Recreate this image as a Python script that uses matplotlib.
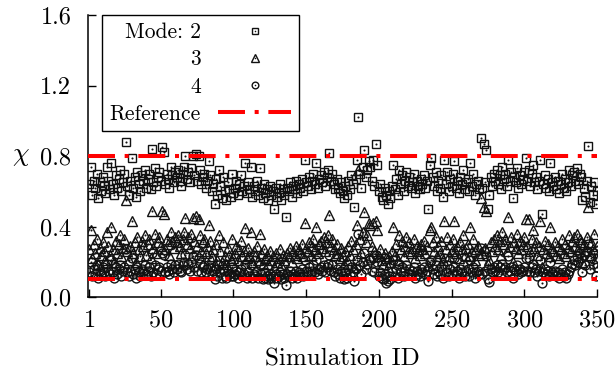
import numpy as np
import matplotlib
matplotlib.use("Agg")
import matplotlib.pyplot as plt
from matplotlib.legend_handler import HandlerTuple

plt.rcParams['font.family'] = 'serif'
plt.rcParams['font.serif'] = ['cmr10', 'DejaVu Serif']
plt.rcParams['mathtext.fontset'] = 'cm'
plt.rcParams['axes.unicode_minus'] = False
plt.rcParams['axes.formatter.use_mathtext'] = True

# ---------------- data ----------------
sim_ids = list(range(1, 351))

mode2 = [
    0.64, 0.74, 0.58, 0.66, 0.62, 0.70, 0.56, 0.65, 0.60, 0.68,
    0.63, 0.59, 0.74, 0.66, 0.61, 0.76, 0.64, 0.58, 0.69, 0.62,
    0.67, 0.72, 0.60, 0.65, 0.70, 0.88, 0.63, 0.58, 0.66, 0.79,
    0.62, 0.68, 0.57, 0.71, 0.64, 0.60, 0.69, 0.66, 0.72, 0.62,
    0.67, 0.70, 0.61, 0.84, 0.65, 0.73, 0.63, 0.68, 0.71, 0.66,
    0.85, 0.82, 0.64, 0.70, 0.67, 0.62, 0.74, 0.69, 0.65, 0.71,
    0.68, 0.72, 0.66, 0.63, 0.70, 0.74, 0.80, 0.67, 0.71, 0.65,
    0.73, 0.80, 0.69, 0.81, 0.66, 0.80, 0.72, 0.64, 0.68, 0.70,
    0.62, 0.66, 0.77, 0.69, 0.60, 0.64, 0.53, 0.67, 0.58, 0.72,
    0.63, 0.56, 0.68, 0.60, 0.55, 0.65, 0.61, 0.57, 0.70, 0.59,
    0.62, 0.66, 0.58, 0.64, 0.69, 0.60, 0.63, 0.76, 0.59, 0.65,
    0.61, 0.74, 0.57, 0.63, 0.60, 0.66, 0.58, 0.73, 0.62, 0.56,
    0.64, 0.59, 0.61, 0.55, 0.63, 0.58, 0.60, 0.50, 0.62, 0.57,
    0.59, 0.64, 0.55, 0.61, 0.58, 0.455, 0.62, 0.60, 0.65, 0.57,
    0.63, 0.61, 0.66, 0.59, 0.64, 0.62, 0.67, 0.60, 0.78, 0.65,
    0.63, 0.68, 0.61, 0.66, 0.70, 0.64, 0.76, 0.62, 0.67, 0.69,
    0.65, 0.71, 0.63, 0.68, 0.72, 0.815, 0.66, 0.70, 0.64, 0.61,
    0.67, 0.62, 0.59, 0.65, 0.60, 0.56, 0.63, 0.58, 0.66, 0.61,
    0.69, 0.64, 0.51, 0.67, 0.78, 1.02, 0.70, 0.62, 0.74, 0.835,
    0.68, 0.72, 0.77, 0.74, 0.66, 0.78, 0.63, 0.87, 0.75, 0.60,
    0.64, 0.57, 0.55, 0.62, 0.58, 0.53, 0.60, 0.56, 0.63, 0.75,
    0.61, 0.67, 0.58, 0.72, 0.64, 0.69, 0.60, 0.66, 0.71, 0.63,
    0.68, 0.62, 0.65, 0.70, 0.59, 0.66, 0.63, 0.61, 0.67, 0.64,
    0.69, 0.62, 0.66, 0.50, 0.75, 0.79, 0.68, 0.63, 0.71, 0.60,
    0.66, 0.62, 0.69, 0.57, 0.78, 0.64, 0.71, 0.60, 0.67, 0.63,
    0.70, 0.77, 0.62, 0.66, 0.59, 0.68, 0.64, 0.72, 0.61, 0.65,
    0.67, 0.60, 0.76, 0.63, 0.70, 0.58, 0.64, 0.66, 0.61, 0.90,
    0.62, 0.87, 0.65, 0.835, 0.50, 0.58, 0.68, 0.63, 0.70, 0.66,
    0.72, 0.64, 0.69, 0.61, 0.74, 0.67, 0.70, 0.63, 0.78, 0.66,
    0.71, 0.56, 0.68, 0.65, 0.73, 0.62, 0.69, 0.64, 0.67, 0.71,
    0.79, 0.66, 0.72, 0.63, 0.70, 0.75, 0.65, 0.68, 0.61, 0.66,
    0.78, 0.47, 0.64, 0.69, 0.62, 0.67, 0.60, 0.76, 0.65, 0.63,
    0.68, 0.61, 0.66, 0.59, 0.64, 0.70, 0.62, 0.67, 0.60, 0.65,
    0.72, 0.63, 0.69, 0.71, 0.66, 0.73, 0.64, 0.70, 0.68, 0.55,
    0.62, 0.57, 0.66, 0.855, 0.54, 0.63, 0.58, 0.65, 0.53, 0.60,
]

mode3 = [
    0.27, 0.38, 0.22, 0.30, 0.25, 0.33, 0.19, 0.28, 0.24, 0.31,
    0.26, 0.21, 0.37, 0.29, 0.24, 0.40, 0.27, 0.20, 0.32, 0.25,
    0.30, 0.35, 0.23, 0.28, 0.33, 0.55, 0.26, 0.21, 0.29, 0.43,
    0.25, 0.31, 0.20, 0.34, 0.27, 0.23, 0.32, 0.29, 0.35, 0.24,
    0.30, 0.33, 0.22, 0.49, 0.28, 0.36, 0.25, 0.31, 0.34, 0.29,
    0.49, 0.47, 0.27, 0.33, 0.30, 0.24, 0.37, 0.32, 0.28, 0.34,
    0.31, 0.35, 0.29, 0.25, 0.33, 0.37, 0.45, 0.30, 0.34, 0.28,
    0.36, 0.45, 0.32, 0.46, 0.29, 0.44, 0.35, 0.26, 0.31, 0.33,
    0.25, 0.29, 0.41, 0.32, 0.23, 0.27, 0.18, 0.30, 0.21, 0.35,
    0.26, 0.20, 0.31, 0.23, 0.19, 0.28, 0.24, 0.21, 0.33, 0.22,
    0.25, 0.29, 0.21, 0.27, 0.32, 0.23, 0.26, 0.39, 0.22, 0.28,
    0.24, 0.37, 0.20, 0.26, 0.23, 0.29, 0.21, 0.36, 0.25, 0.19,
    0.27, 0.22, 0.24, 0.19, 0.26, 0.21, 0.23, 0.17, 0.25, 0.20,
    0.22, 0.27, 0.18, 0.24, 0.21, 0.15, 0.25, 0.23, 0.28, 0.20,
    0.26, 0.24, 0.29, 0.22, 0.27, 0.25, 0.30, 0.23, 0.42, 0.28,
    0.26, 0.31, 0.24, 0.29, 0.33, 0.27, 0.40, 0.25, 0.30, 0.32,
    0.28, 0.34, 0.26, 0.31, 0.35, 0.465, 0.29, 0.33, 0.27, 0.24,
    0.30, 0.25, 0.22, 0.28, 0.23, 0.19, 0.26, 0.21, 0.29, 0.24,
    0.32, 0.27, 0.17, 0.30, 0.41, 0.72, 0.33, 0.25, 0.37, 0.48,
    0.31, 0.35, 0.42, 0.41, 0.29, 0.42, 0.26, 0.43, 0.38, 0.23,
    0.27, 0.21, 0.19, 0.25, 0.22, 0.17, 0.23, 0.20, 0.26, 0.40,
    0.24, 0.30, 0.21, 0.35, 0.27, 0.32, 0.23, 0.29, 0.34, 0.26,
    0.31, 0.25, 0.28, 0.33, 0.22, 0.29, 0.26, 0.24, 0.30, 0.27,
    0.32, 0.25, 0.29, 0.18, 0.38, 0.40, 0.31, 0.26, 0.34, 0.23,
    0.29, 0.25, 0.32, 0.21, 0.43, 0.27, 0.34, 0.23, 0.30, 0.26,
    0.33, 0.43, 0.25, 0.29, 0.22, 0.31, 0.27, 0.35, 0.24, 0.28,
    0.30, 0.23, 0.40, 0.26, 0.33, 0.21, 0.27, 0.29, 0.24, 0.56,
    0.25, 0.51, 0.28, 0.49, 0.19, 0.21, 0.31, 0.26, 0.33, 0.29,
    0.35, 0.27, 0.32, 0.24, 0.37, 0.30, 0.33, 0.26, 0.455, 0.29,
    0.34, 0.20, 0.31, 0.28, 0.36, 0.25, 0.32, 0.27, 0.30, 0.34,
    0.44, 0.29, 0.44, 0.26, 0.33, 0.38, 0.28, 0.31, 0.24, 0.29,
    0.43, 0.17, 0.27, 0.32, 0.25, 0.30, 0.23, 0.40, 0.28, 0.26,
    0.31, 0.24, 0.29, 0.22, 0.27, 0.33, 0.25, 0.30, 0.23, 0.28,
    0.35, 0.26, 0.32, 0.34, 0.29, 0.36, 0.27, 0.33, 0.31, 0.20,
    0.30, 0.26, 0.34, 0.51, 0.24, 0.31, 0.27, 0.36, 0.22, 0.29,
]

mode4 = [
    0.14, 0.20, 0.12, 0.16, 0.13, 0.18, 0.11, 0.15, 0.13, 0.17,
    0.14, 0.12, 0.19, 0.15, 0.13, 0.21, 0.14, 0.11, 0.17, 0.13,
    0.16, 0.18, 0.12, 0.15, 0.17, 0.27, 0.14, 0.12, 0.15, 0.22,
    0.13, 0.16, 0.11, 0.17, 0.14, 0.12, 0.16, 0.15, 0.18, 0.13,
    0.15, 0.17, 0.12, 0.25, 0.14, 0.18, 0.13, 0.16, 0.17, 0.15,
    0.25, 0.24, 0.14, 0.17, 0.15, 0.13, 0.19, 0.16, 0.14, 0.18,
    0.16, 0.19, 0.15, 0.14, 0.18, 0.20, 0.24, 0.16, 0.19, 0.15,
    0.20, 0.23, 0.17, 0.24, 0.15, 0.22, 0.19, 0.14, 0.17, 0.18,
    0.14, 0.16, 0.21, 0.17, 0.13, 0.15, 0.10, 0.16, 0.12, 0.18,
    0.14, 0.11, 0.16, 0.12, 0.11, 0.15, 0.13, 0.12, 0.17, 0.12,
    0.13, 0.15, 0.11, 0.14, 0.16, 0.12, 0.13, 0.19, 0.11, 0.14,
    0.12, 0.18, 0.11, 0.13, 0.12, 0.15, 0.11, 0.18, 0.13, 0.10,
    0.14, 0.11, 0.12, 0.10, 0.13, 0.11, 0.12, 0.078, 0.13, 0.11,
    0.12, 0.14, 0.10, 0.13, 0.11, 0.07, 0.13, 0.12, 0.15, 0.11,
    0.13, 0.12, 0.15, 0.11, 0.14, 0.13, 0.16, 0.12, 0.21, 0.15,
    0.14, 0.17, 0.13, 0.15, 0.18, 0.14, 0.21, 0.13, 0.16, 0.17,
    0.15, 0.18, 0.14, 0.17, 0.19, 0.24, 0.15, 0.18, 0.14, 0.12,
    0.16, 0.13, 0.11, 0.15, 0.12, 0.10, 0.14, 0.11, 0.16, 0.13,
    0.17, 0.14, 0.09, 0.16, 0.21, 0.36, 0.18, 0.13, 0.20, 0.25,
    0.16, 0.19, 0.22, 0.21, 0.15, 0.22, 0.14, 0.24, 0.20, 0.12,
    0.14, 0.11, 0.10, 0.13, 0.08, 0.09, 0.12, 0.10, 0.14, 0.21,
    0.12, 0.16, 0.11, 0.19, 0.14, 0.17, 0.12, 0.15, 0.18, 0.13,
    0.16, 0.13, 0.15, 0.17, 0.11, 0.15, 0.13, 0.12, 0.16, 0.14,
    0.17, 0.13, 0.15, 0.09, 0.20, 0.21, 0.16, 0.13, 0.18, 0.12,
    0.15, 0.13, 0.17, 0.11, 0.22, 0.14, 0.18, 0.12, 0.16, 0.13,
    0.17, 0.22, 0.13, 0.15, 0.11, 0.16, 0.14, 0.18, 0.12, 0.15,
    0.16, 0.12, 0.21, 0.14, 0.17, 0.11, 0.14, 0.15, 0.13, 0.28,
    0.13, 0.26, 0.15, 0.23, 0.10, 0.085, 0.16, 0.14, 0.17, 0.15,
    0.18, 0.14, 0.17, 0.13, 0.19, 0.16, 0.17, 0.14, 0.23, 0.15,
    0.17, 0.11, 0.16, 0.15, 0.18, 0.13, 0.16, 0.14, 0.15, 0.17,
    0.22, 0.15, 0.22, 0.14, 0.17, 0.19, 0.14, 0.16, 0.12, 0.15,
    0.21, 0.08, 0.14, 0.16, 0.13, 0.15, 0.12, 0.20, 0.14, 0.13,
    0.15, 0.12, 0.14, 0.11, 0.13, 0.16, 0.12, 0.14, 0.11, 0.13,
    0.15, 0.17, 0.19, 0.21, 0.18, 0.23, 0.20, 0.25, 0.22, 0.14,
    0.24, 0.18, 0.26, 0.30, 0.16, 0.22, 0.19, 0.25, 0.12, 0.17,
]

ref_levels = [0.8, 0.1]
x_ticks = [1, 50, 100, 150, 200, 250, 300, 350]
y_ticks = [0.0, 0.4, 0.8, 1.2, 1.6]
y_ticklabels = ["0.0", "0.4", "0.8", "1.2", "1.6"]
series_labels = ["Mode: 2", "3", "4"]
ref_label = "Reference"

# ---------------- figure ----------------
W, H = 616, 376
fig = plt.figure(figsize=(W / 100, H / 100), dpi=100)
ax = fig.add_axes([88 / W, 1 - 297 / H, (597 - 88) / W, (297 - 15) / H])

markers = ['s', '^', 'o']
sizes = [6.4, 7.0, 6.4]
handles = []
for vals, mk, ms in zip([mode2, mode3, mode4], markers, sizes):
    h1, = ax.plot(sim_ids, vals, linestyle='none', marker=mk, ms=ms,
                  mfc='none', mec='#111111', mew=1.0, zorder=3)
    h2, = ax.plot(sim_ids, vals, linestyle='none', marker='o', ms=1.5,
                  mfc='#111111', mec='none', zorder=3)
    handles.append((h1, h2))

ref_handle = None
for lvl in ref_levels:
    ref_handle = ax.axhline(lvl, color='#ff0000', lw=2.9,
                            linestyle=(0, (6.7, 2.4, 1.0, 2.4)), zorder=4)

ax.set_xlim(0, 350)
ax.set_ylim(0, 1.6)
ax.set_xticks(x_ticks)
ax.set_yticks(y_ticks)
ax.set_yticklabels(y_ticklabels)
ax.tick_params(direction='in', length=6, width=1.0, labelsize=17.5, pad=9)
ax.tick_params(axis='y', pad=12)
for s in ['top', 'right']:
    ax.spines[s].set_visible(False)
for s in ['left', 'bottom']:
    ax.spines[s].set_linewidth(1.1)

ax.set_xlabel("Simulation ID", fontsize=18, labelpad=12)
ax.set_ylabel(r"$\chi$", fontsize=19, rotation=0, labelpad=14, va='center')

leg = ax.legend(handles + [ref_handle], series_labels + [ref_label],
                handler_map={tuple: HandlerTuple(ndivide=1)},
                loc='upper left', bbox_to_anchor=(0.0275, 1.0),
                borderaxespad=0, markerfirst=False, fontsize=15.5,
                frameon=True, fancybox=False, edgecolor='black',
                framealpha=1, handlelength=3.4, handletextpad=0.8,
                labelspacing=0.36, borderpad=0.35, markerscale=0.75)
leg.get_frame().set_linewidth(1.0)
leg.set_zorder(5)

fig.savefig("out.png", dpi=100)
